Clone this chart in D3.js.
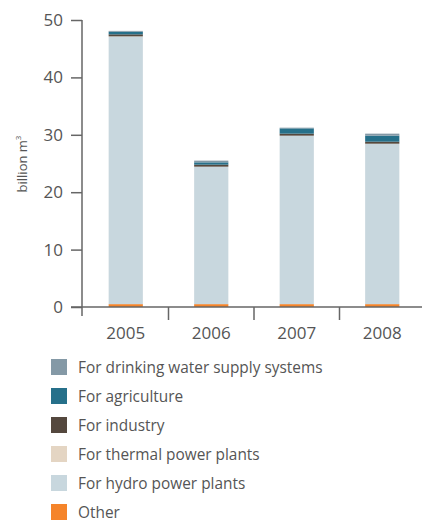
<!DOCTYPE html>
<html><head><meta charset="utf-8">
<script src="https://cdn.jsdelivr.net/npm/d3@7"></script>
<style>body{margin:0;background:#fff}svg{display:block}text{font-family:"Open Sans",sans-serif;fill:#555}</style>
</head><body><svg id="c" width="422" height="521"></svg>
<script>
const years = ["2005","2006","2007","2008"];
const other = [0.5, 0.5, 0.5, 0.5];
const hydro = [46.6, 23.9, 29.3, 27.9];
const thermal = [0.05, 0.05, 0.05, 0.05];
const industry = [0.35, 0.35, 0.35, 0.35];
const agriculture = [0.45, 0.4, 0.92, 1.05];
const drinking = [0.15, 0.3, 0.12, 0.35];
const yTicks = [0, 10, 20, 30, 40, 50];
const seriesNames = ["Other","For hydro power plants","For thermal power plants","For industry","For agriculture","For drinking water supply systems"];
const seriesColors = ["#f5842a","#c8d7de","#e4d5c3","#54483e","#26708a","#8499a6"];
const legendOrder = ["For drinking water supply systems","For agriculture","For industry","For thermal power plants","For hydro power plants","Other"];

const seriesData = [other, hydro, thermal, industry, agriculture, drinking];
const table = years.map((y,i)=>{const o={year:y}; seriesNames.forEach((n,k)=>o[n]=seriesData[k][i]); return o;});
const stack = d3.stack().keys(seriesNames)(table);
const color = d3.scaleOrdinal().domain(seriesNames).range(seriesColors);

const svg = d3.select("#c");
const x = d3.scaleBand().domain(years).range([83, 425]).paddingInner(0.6).paddingOuter(0.3);
const y = d3.scaleLinear().domain([0, 50]).range([307, 20]);

svg.append("g").selectAll("g").data(stack).join("g").attr("fill", d=>color(d.key))
  .selectAll("rect").data(d=>d).join("rect")
  .attr("x", d=>x(d.data.year)).attr("width", x.bandwidth())
  .attr("y", d=>y(d[1])).attr("height", d=>y(d[0])-y(d[1]));

const axCol = "#666";
const ya = svg.append("g").attr("transform","translate(82,0)").call(d3.axisLeft(y).tickValues(yTicks).tickSize(11).tickPadding(8));
ya.select(".domain").remove();
ya.selectAll(".tick line").attr("stroke", axCol).attr("stroke-width",1.5);
ya.selectAll("text").attr("font-size",17).attr("fill","#555").attr("font-family","Open Sans");
svg.append("line").attr("x1",82).attr("x2",82).attr("y1",y(50)).attr("y2",316).attr("stroke",axCol).attr("stroke-width",1.5);
svg.append("line").attr("x1",71).attr("x2",422).attr("y1",307).attr("y2",307).attr("stroke",axCol).attr("stroke-width",1.5);
const bounds = years.slice(1).map(yr=>x(yr) - x.step()*x.paddingInner()/2);
svg.append("g").selectAll("line").data(bounds).join("line")
  .attr("x1",d=>d).attr("x2",d=>d).attr("y1",307).attr("y2",320).attr("stroke",axCol).attr("stroke-width",1.5);
const xa = svg.append("g").attr("transform","translate(0,307)").call(d3.axisBottom(x).tickSize(0).tickPadding(20));
xa.select(".domain").remove();
xa.selectAll("text").attr("font-size",17).attr("fill","#555").attr("font-family","Open Sans");

const yl = svg.append("text").attr("transform","translate(27,164) rotate(-90)").attr("text-anchor","middle").attr("font-size",13);
yl.append("tspan").text("billion m");
yl.append("tspan").attr("font-size",8).attr("dy",-6).text("3");

const lg = svg.append("g").selectAll("g").data(legendOrder).join("g")
  .attr("transform",(d,i)=>`translate(51,${359+i*29})`);
lg.append("rect").attr("width",16).attr("height",16).attr("fill",d=>color(d));
lg.append("text").attr("x",27).attr("y",13.5).attr("font-size",15.4).text(d=>d);
</script></body></html>
